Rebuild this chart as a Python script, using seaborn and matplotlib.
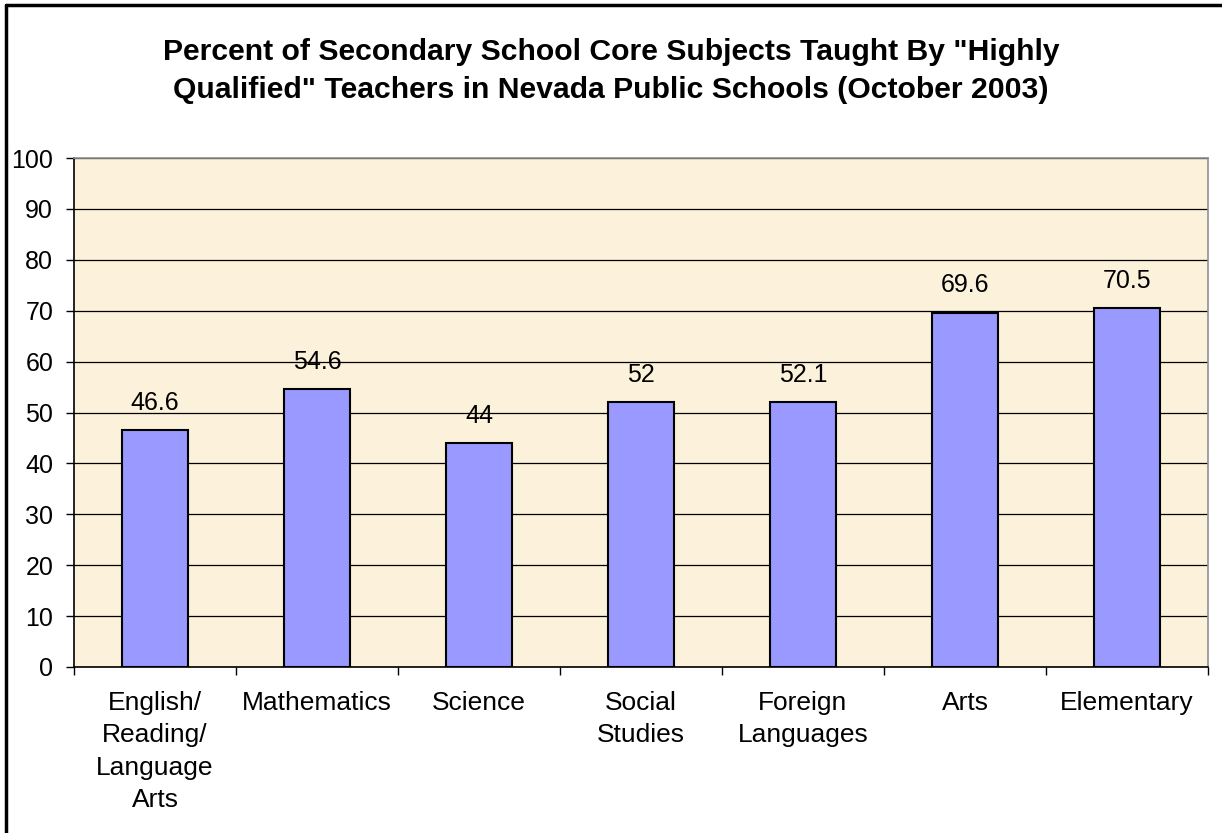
import matplotlib
matplotlib.use("Agg")
import matplotlib.pyplot as plt
import seaborn as sns
import pandas as pd
import numpy as np
from matplotlib.lines import Line2D

categories = ["English/\nReading/\nLanguage\nArts", "Mathematics", "Science",
              "Social\nStudies", "Foreign\nLanguages", "Arts", "Elementary"]
values = [46.6, 54.6, 44, 52, 52.1, 69.6, 70.5]
value_labels = ["46.6", "54.6", "44", "52", "52.1", "69.6", "70.5"]
title = 'Percent of Secondary School Core Subjects Taught By "Highly\nQualified" Teachers in Nevada Public Schools (October 2003)'

sns.set_theme(style="white")
plt.rcParams['font.family'] = ['Liberation Sans', 'DejaVu Sans']

df = pd.DataFrame({"subject": categories, "pct": values})

fig = plt.figure(figsize=(12.22, 8.33), dpi=100)
ax = fig.add_axes([74/1222, 1-667/833, (1208-74)/1222, (667-158)/833])
ax.set_facecolor("#FCF1DA")

sns.barplot(data=df, x="subject", y="pct", color="#9999FF", saturation=1,
            width=0.41, edgecolor="black", linewidth=1.5, ax=ax, zorder=3)

ax.set_ylim(0, 100)
ax.set_xlim(-0.5, len(categories) - 0.5)
ax.set_yticks(np.arange(0, 101, 10))
ax.yaxis.grid(True, color="black", linewidth=0.9, zorder=0)
ax.set_axisbelow(True)
ax.set_xlabel("")
ax.set_ylabel("")

for i, (v, lab) in enumerate(zip(values, value_labels)):
    ax.annotate(lab, (i, v), xytext=(0, 11), textcoords="offset points",
                ha="center", va="bottom", fontsize=18, color="black")

ax.tick_params(axis="y", which="major", length=6, width=1, color="black",
               labelsize=18, pad=9, direction="out", left=True)
ax.tick_params(axis="x", which="major", length=0, labelsize=19, pad=17)
ax.set_xticks(np.arange(-0.5, len(categories), 1), minor=True)
ax.tick_params(axis="x", which="minor", length=6, width=1, color="black",
               direction="out", bottom=True)
for t in ax.get_xticklabels():
    t.set_linespacing(1.45)
    t.set_color("black")
for t in ax.get_yticklabels():
    t.set_color("black")

for s in ["left", "bottom"]:
    ax.spines[s].set_color("black")
    ax.spines[s].set_linewidth(1.2)
for s in ["top", "right"]:
    ax.spines[s].set_color("#909090")
    ax.spines[s].set_linewidth(1.2)

fig.text(0.5, 1 - 71/833, title, ha="center", va="center", fontsize=21.7,
         fontweight="bold", linespacing=1.43, color="black")

# outer border (top and left visible)
fig.add_artist(Line2D([6/1222, 1.0], [1 - 5/833, 1 - 5/833], transform=fig.transFigure,
                      color="black", linewidth=2.5))
fig.add_artist(Line2D([6/1222, 6/1222], [0.0, 1 - 5/833], transform=fig.transFigure,
                      color="black", linewidth=2.5))

fig.savefig("out.png", dpi=100, facecolor="white")
